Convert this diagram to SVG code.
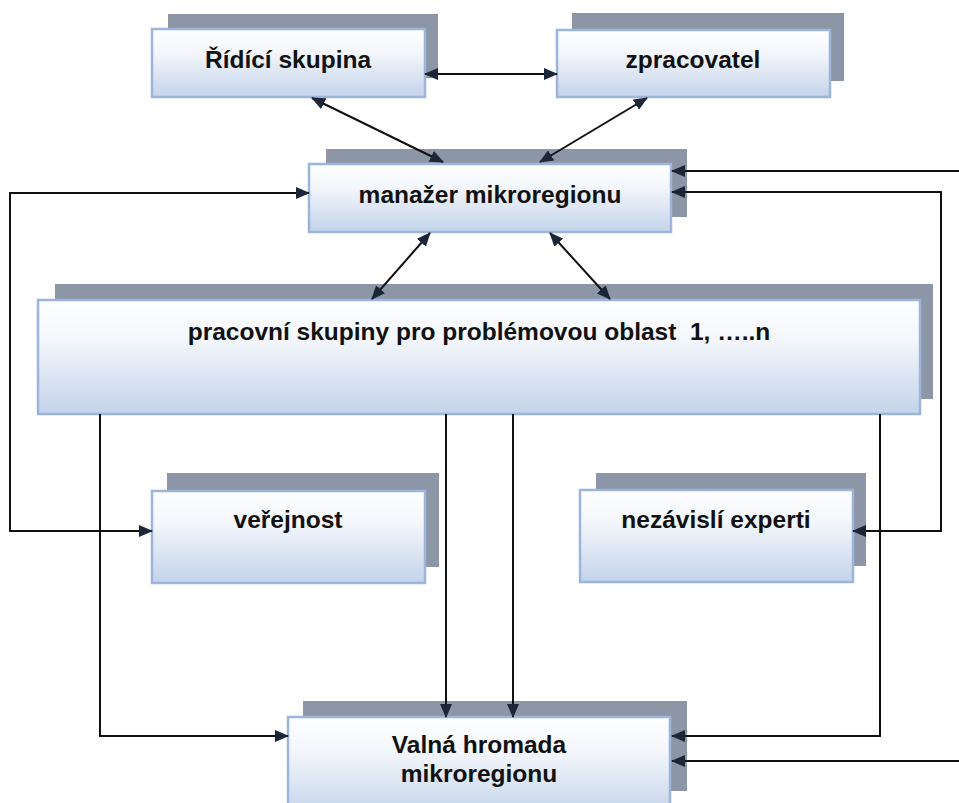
<svg xmlns="http://www.w3.org/2000/svg" width="959" height="803" viewBox="0 0 959 803">
<defs>
<linearGradient id="g" x1="0" y1="0" x2="0" y2="1">
<stop offset="0" stop-color="#ffffff"/>
<stop offset="0.35" stop-color="#f3f6fb"/>
<stop offset="1" stop-color="#c3d3ea"/>
</linearGradient>
<marker id="ah" viewBox="0 0 14 12" refX="13" refY="6" markerWidth="14" markerHeight="12" markerUnits="userSpaceOnUse" orient="auto-start-reverse">
<path d="M0,0 L14,6 L0,12 Z" fill="#1b2638"/>
</marker>
<style>
.sh{fill:#8d96a6}
.bx{fill:url(#g);stroke:#9db5da;stroke-width:2.5}
.t{font-family:"Liberation Sans",Arial,sans-serif;font-weight:bold;font-size:24.5px;fill:#111;text-anchor:middle}
.c{fill:none;stroke:#111;stroke-width:2}
.e{marker-end:url(#ah)}
.s{marker-start:url(#ah)}
</style>
</defs>
<rect width="959" height="803" fill="#fff"/>
<g id="ridici">
<rect class="sh" x="168" y="14" width="270" height="64"/>
<rect class="bx" x="152" y="29" width="273" height="68"/>
<text class="t" x="288" y="68">Řídící skupina</text>
</g>
<g id="zpracovatel">
<rect class="sh" x="572" y="13" width="272" height="68"/>
<rect class="bx" x="557" y="30" width="273" height="67"/>
<text class="t" x="693" y="68">zpracovatel</text>
</g>
<g id="manazer">
<rect class="sh" x="326" y="149" width="361" height="68"/>
<rect class="bx" x="309" y="164" width="362" height="68"/>
<text class="t" x="490" y="203">manažer mikroregionu</text>
</g>
<g id="pracovni">
<rect class="sh" x="55" y="284" width="878" height="115"/>
<rect class="bx" x="38" y="300" width="882" height="114"/>
<text class="t" x="479" y="340" xml:space="preserve">pracovní skupiny pro problémovou oblast  1, …..n</text>
</g>
<g id="verejnost">
<rect class="sh" x="167" y="473" width="272" height="94"/>
<rect class="bx" x="152" y="491" width="273" height="92"/>
<text class="t" x="288" y="528">veřejnost</text>
</g>
<g id="experti">
<rect class="sh" x="596" y="473" width="270" height="93"/>
<rect class="bx" x="580" y="490" width="273" height="92"/>
<text class="t" x="716" y="528">nezávislí experti</text>
</g>
<g id="valna">
<rect class="sh" x="303" y="701" width="384" height="90"/>
<rect class="bx" x="288" y="717" width="382" height="100"/>
<text class="t" x="479" y="753">Valná hromada</text>
<text class="t" x="479" y="782">mikroregionu</text>
</g>
<g id="connectors">
<line class="c s e" x1="425" y1="74" x2="557" y2="74"/>
<line class="c s e" x1="312" y1="98" x2="443" y2="162"/>
<line class="c s e" x1="647" y1="98" x2="540" y2="162"/>
<line class="c s e" x1="430" y1="233" x2="372" y2="299"/>
<line class="c s e" x1="550" y1="233" x2="610" y2="299"/>
<line class="c e" x1="959" y1="171" x2="672" y2="171"/>
<polyline class="c s e" points="672,192 941,192 941,531 853,531"/>
<polyline class="c s e" points="309,193 10,193 10,531 152,531"/>
<polyline class="c e" points="100,414 100,736 288,736"/>
<line class="c e" x1="446" y1="414" x2="446" y2="717"/>
<line class="c e" x1="513" y1="414" x2="513" y2="717"/>
<polyline class="c e" points="880,414 880,736 672,736"/>
<line class="c e" x1="959" y1="761" x2="672" y2="761"/>
</g>
</svg>
